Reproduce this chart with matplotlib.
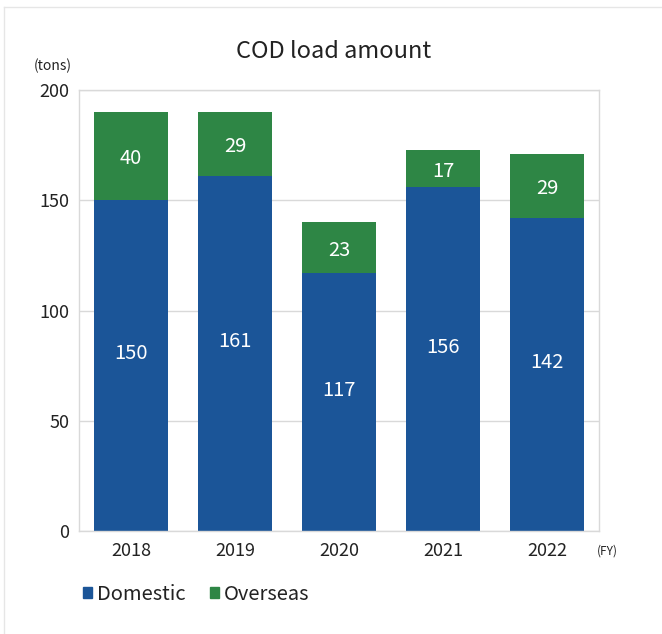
import matplotlib
matplotlib.use("Agg")
import matplotlib.pyplot as plt
from matplotlib.lines import Line2D
from matplotlib.patches import Patch

plt.rcParams['font.family'] = ['Noto Sans CJK JP', 'DejaVu Sans']

years = ["2018", "2019", "2020", "2021", "2022"]
domestic = [150, 161, 117, 156, 142]
overseas = [40, 29, 23, 17, 29]

BLUE = "#1b5598"
GREEN = "#2e8645"
GRID = "#d9d9d9"
TEXT = "#222222"

W, H = 662, 634
fig = plt.figure(figsize=(W / 100, H / 100), dpi=100)

# axes placement in pixel units
left, right, top, bottom = 79, 599, 90, 531
ax = fig.add_axes([left / W, 1 - bottom / H, (right - left) / W, (bottom - top) / H])

x = list(range(len(years)))
width = 0.71
ax.bar(x, domestic, width, color=BLUE, zorder=2)
ax.bar(x, overseas, width, bottom=domestic, color=GREEN, zorder=2)

for i in x:
    ax.annotate(str(domestic[i]), (i, domestic[i] / 2), xytext=(0, 8.5),
                textcoords="offset points", ha="center", va="center",
                color="white", fontsize=14.5)
    ax.annotate(str(overseas[i]), (i, domestic[i] + overseas[i] / 2), xytext=(0, -2),
                textcoords="offset points", ha="center", va="center",
                color="white", fontsize=14.5)

ax.set_xlim(-0.5, len(years) - 0.5)
ax.set_ylim(0, 200)
ax.set_yticks([0, 50, 100, 150, 200])
ax.set_xticks(x)
ax.set_xticklabels(years)
ax.tick_params(axis="both", length=0, labelsize=13, colors=TEXT)
ax.tick_params(axis="x", pad=8)
ax.tick_params(axis="y", pad=7)
ax.grid(axis="y", color=GRID, linewidth=1, zorder=0)
for s in ax.spines.values():
    s.set_color(GRID)
    s.set_linewidth(1)

fig.text(334 / W, 1 - 51 / H, "COD load amount", ha="center", va="center",
         fontsize=17, color=TEXT)
fig.text(53 / W, 1 - 66 / H, "(tons)", ha="center", va="center",
         fontsize=10, color=TEXT)
fig.text(607 / W, 1 - 551 / H, "(FY)", ha="center", va="center",
         fontsize=8.5, color=TEXT)

handles = [Patch(color=BLUE, label="Domestic"), Patch(color=GREEN, label="Overseas")]
fig.legend(handles=handles, loc="center left", bbox_to_anchor=(83 / W, 1 - 594 / H),
           ncol=2, frameon=False, fontsize=14.5, handlelength=0.45, handleheight=0.45,
           handletextpad=0.25, columnspacing=1.2, labelcolor=TEXT,
           borderpad=0, borderaxespad=0)

# outer panel edge
fig.add_artist(Line2D([4 / W, 4 / W], [0, 1 - 7 / H], transform=fig.transFigure,
                      color="#e6e6e6", linewidth=1))
fig.add_artist(Line2D([4 / W, 1], [1 - 7 / H, 1 - 7 / H], transform=fig.transFigure,
                      color="#e6e6e6", linewidth=1))

fig.savefig("out.png", dpi=100)
